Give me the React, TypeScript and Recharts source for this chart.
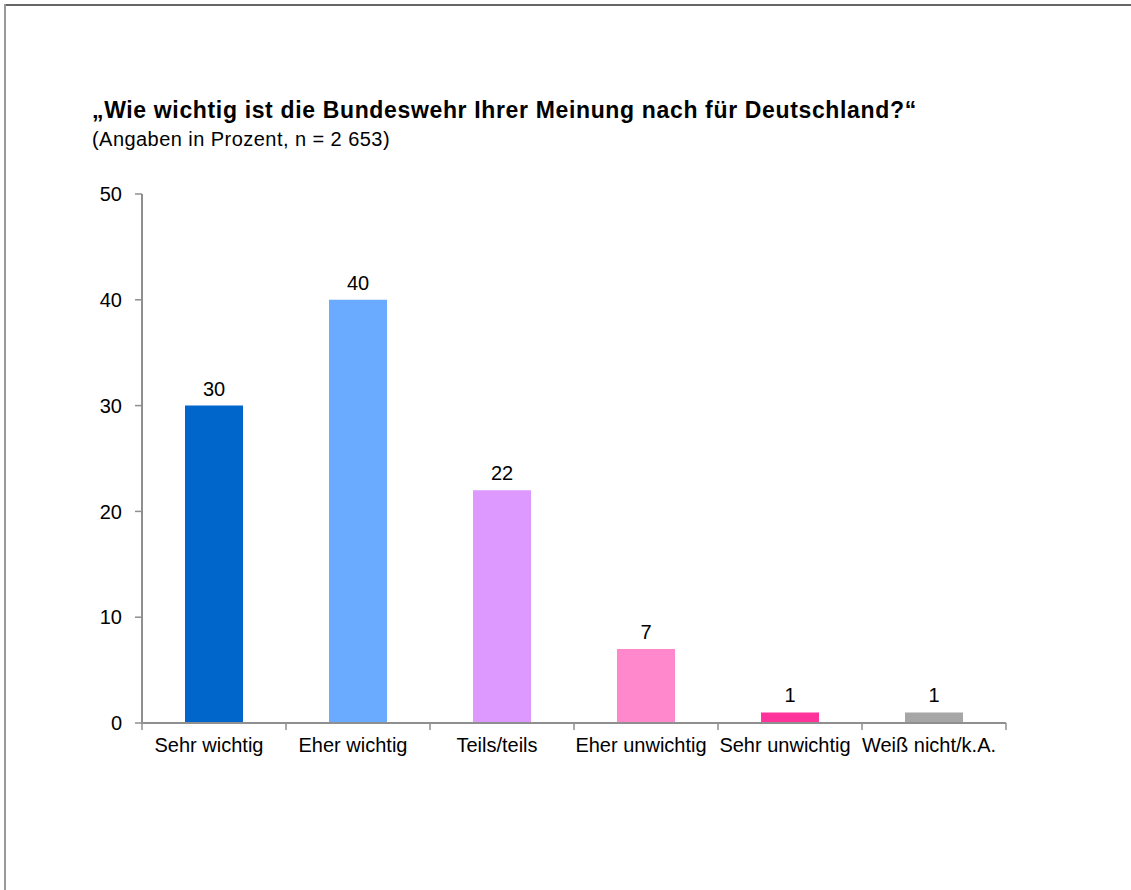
import { BarChart, Bar, XAxis, YAxis, Cell, LabelList } from 'recharts'

const categories = ['Sehr wichtig', 'Eher wichtig', 'Teils/teils', 'Eher unwichtig', 'Sehr unwichtig', 'Weiß nicht/k.A.']
const values = [30, 40, 22, 7, 1, 1]
const barColors = ['#0066cc', '#6aabff', '#dd99ff', '#ff88cc', '#ff3399', '#a6a6a6']
const yTicks = [0, 10, 20, 30, 40, 50]

const data = categories.map((name, i) => ({ name, value: values[i] }))

const FONT = '"Liberation Sans", Arial, sans-serif'
const AXIS = '#8f8f8f'

// plot box
const PLOT_LEFT = 142
const PLOT_RIGHT = 1006
const PLOT_TOP = 194
const PLOT_BOTTOM = 723
const BAND = (PLOT_RIGHT - PLOT_LEFT) / categories.length

function CategoryTick(props: any) {
  const { x, y, payload, index } = props
  const half = BAND / 2
  const top = PLOT_BOTTOM
  return (
    <g>
      <line x1={x - half} x2={x - half} y1={top} y2={top + 7} stroke={AXIS} strokeWidth={1.5} />
      {index === categories.length - 1 && (
        <line x1={x + half} x2={x + half} y1={top} y2={top + 7} stroke={AXIS} strokeWidth={1.5} />
      )}
      {/* labels in the original sit a little left of the bar centre */}
      <text x={x - 5} y={y + 21} textAnchor="middle" fontSize={20} fontFamily={FONT} fill="#000">
        {payload.value}
      </text>
    </g>
  )
}

export default function App() {
  return (
    <div style={{ position: 'absolute', left: 0, top: 0, width: 1131, height: 890, background: '#fff', fontFamily: FONT }}>
      <div style={{ position: 'absolute', left: 4, top: 4, right: 0, height: 0, borderTop: '2px solid #666' }} />
      <div style={{ position: 'absolute', left: 4, top: 4, bottom: 0, width: 0, borderLeft: '2px solid #999' }} />
      <div style={{ position: 'absolute', left: 92, top: 97, fontSize: 23, letterSpacing: 0.65, fontWeight: 'bold', color: '#000', whiteSpace: 'nowrap' }}>
        „Wie wichtig ist die Bundeswehr Ihrer Meinung nach für Deutschland?“
      </div>
      <div style={{ position: 'absolute', left: 92, top: 128, fontSize: 20, letterSpacing: 0.45, color: '#000', whiteSpace: 'nowrap' }}>
        (Angaben in Prozent, n = 2 653)
      </div>
      <div style={{ position: 'absolute', left: 0, top: 0 }}>
        <BarChart
          width={1131}
          height={890}
          data={data}
          margin={{ top: PLOT_TOP, right: 1131 - PLOT_RIGHT, bottom: 890 - PLOT_BOTTOM - 40, left: PLOT_LEFT - 60 }}
          barCategoryGap={0}
        >
          <XAxis
            dataKey="name"
            height={40}
            interval={0}
            axisLine={{ stroke: AXIS, strokeWidth: 2 }}
            tickLine={false}
            tick={<CategoryTick />}
          />
          <YAxis
            width={60}
            domain={[0, 50]}
            ticks={yTicks}
            interval={0}
            axisLine={{ stroke: AXIS, strokeWidth: 2 }}
            tickLine={{ stroke: AXIS, strokeWidth: 1.5 }}
            tickSize={7}
            tick={{ fontSize: 20, fontFamily: FONT, fill: '#000' }}
            tickMargin={13}
          />
          <Bar dataKey="value" barSize={58} isAnimationActive={false}>
            {data.map((_, i) => (
              <Cell key={i} fill={barColors[i]} />
            ))}
            <LabelList dataKey="value" position="top" offset={10} fontSize={20} fontFamily={FONT} fill="#000" />
          </Bar>
        </BarChart>
      </div>
    </div>
  )
}
